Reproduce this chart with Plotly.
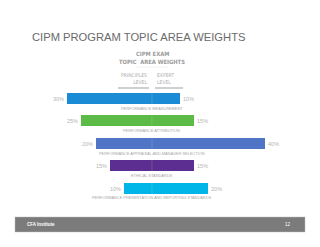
import plotly.graph_objects as go

# ---- data ----
topics = ["PERFORMANCE MEASUREMENT", "PERFORMANCE ATTRIBUTION",
          "PERFORMANCE APPRAISAL AND MANAGER SELECTION", "ETHICAL STANDARDS",
          "PERFORMANCE PRESENTATION AND REPORTING STANDARDS"]
principles = [30, 25, 20, 15, 10]
expert = [10, 15, 40, 15, 20]
colors = ["#1b8bd6", "#5cba47", "#5075c6", "#5c2e91", "#00b6e9"]

W, H = 320, 247
def py(px):
    return 1 - px / H

fig = go.Figure()
fig.add_trace(go.Bar(
    y=topics, x=[-v for v in principles], orientation="h",
    marker=dict(color=colors, line=dict(width=0)),
    text=[f"{v}%" for v in principles], textposition="outside",
    textfont=dict(size=5.5, color="#b5b5b5", family="Liberation Sans"),
    width=0.49, cliponaxis=False, hoverinfo="skip"))
fig.add_trace(go.Bar(
    y=topics, x=expert, orientation="h",
    marker=dict(color=colors, line=dict(width=0)),
    text=[f"{v}%" for v in expert], textposition="outside",
    textfont=dict(size=5.5, color="#b5b5b5", family="Liberation Sans"),
    width=0.49, cliponaxis=False, hoverinfo="skip"))

annotations = []
for t in topics:
    annotations.append(dict(x=0, y=t, xref="x", yref="y", text=t, showarrow=False,
                            yshift=-9.8, font=dict(size=3.9, color="#a8a8a8",
                                                   family="Liberation Sans")))

narrow = "Liberation Sans Narrow, Arial Narrow, DejaVu Sans Condensed, Roboto, sans-serif"
annotations += [
    dict(x=30 / W, y=py(37), xref="paper", yref="paper", xanchor="left", yanchor="middle",
         text="CIPM PROGRAM TOPIC AREA WEIGHTS", showarrow=False,
         font=dict(size=11.2, color="#6a6a6a", family="Liberation Sans")),
    dict(x=152 / W, y=py(54.3), xref="paper", yref="paper", xanchor="center", yanchor="middle",
         text="<b>CIPM EXAM</b>", showarrow=False,
         font=dict(size=5.8, color="#9a9a9a", family=narrow)),
    dict(x=152 / W, y=py(62), xref="paper", yref="paper", xanchor="center", yanchor="middle",
         text="<b>TOPIC  AREA WEIGHTS</b>", showarrow=False,
         font=dict(size=5.8, color="#9a9a9a", family=narrow)),
    dict(x=149 / W, y=py(78.3), xref="paper", yref="paper", xanchor="right", yanchor="middle",
         text="PRINCIPLES<br>LEVEL", align="right", showarrow=False,
         font=dict(size=5, color="#adadad", family=narrow)),
    dict(x=155 / W, y=py(78.3), xref="paper", yref="paper", xanchor="left", yanchor="middle",
         text="EXPERT<br>LEVEL", align="left", showarrow=False,
         font=dict(size=5, color="#adadad", family=narrow)),
    dict(x=25 / W, y=py(224.5), xref="paper", yref="paper", xanchor="left", yanchor="middle",
         text="<b>CFA Institute</b>", showarrow=False,
         font=dict(size=4.5, color="#ffffff", family="Liberation Sans")),
    dict(x=288 / W, y=py(224.5), xref="paper", yref="paper", xanchor="center", yanchor="middle",
         text="12", showarrow=False,
         font=dict(size=4.5, color="#ffffff", family="Liberation Sans")),
]

shapes = [
    dict(type="line", xref="paper", yref="paper", x0=118 / W, x1=149 / W, y0=py(88), y1=py(88),
         line=dict(color="#777777", width=0.7)),
    dict(type="line", xref="paper", yref="paper", x0=155 / W, x1=183 / W, y0=py(88), y1=py(88),
         line=dict(color="#777777", width=0.7)),
    dict(type="line", xref="paper", yref="paper", x0=135 / W, x1=168 / W, y0=py(67), y1=py(67),
         line=dict(color="#e4e4e4", width=0.5)),
    dict(type="rect", xref="paper", yref="paper", x0=15 / W, x1=305 / W, y0=py(232), y1=py(217),
         fillcolor="#7b7b7b", line=dict(color="#bdbdbd", width=0.5), layer="below"),
    dict(type="line", xref="x", yref="paper", x0=0, x1=0, y0=py(194), y1=py(92),
         line=dict(color="rgba(255,255,255,0.25)", width=0.6), layer="above"),
]

fig.update_layout(
    width=W, height=H, margin=dict(l=0, r=0, t=0, b=0),
    paper_bgcolor="white", plot_bgcolor="white",
    barmode="relative", bargap=0, showlegend=False,
    xaxis=dict(range=[-53.9, 59.6], visible=False, fixedrange=True),
    yaxis=dict(type="category", categoryorder="array", categoryarray=topics,
               range=[(247 - 98.5) / 22.4, -98.5 / 22.4], visible=False, fixedrange=True),
    annotations=annotations, shapes=shapes,
    uniformtext=dict(minsize=1),
)

fig.write_html("out.html", config={"displayModeBar": False})
